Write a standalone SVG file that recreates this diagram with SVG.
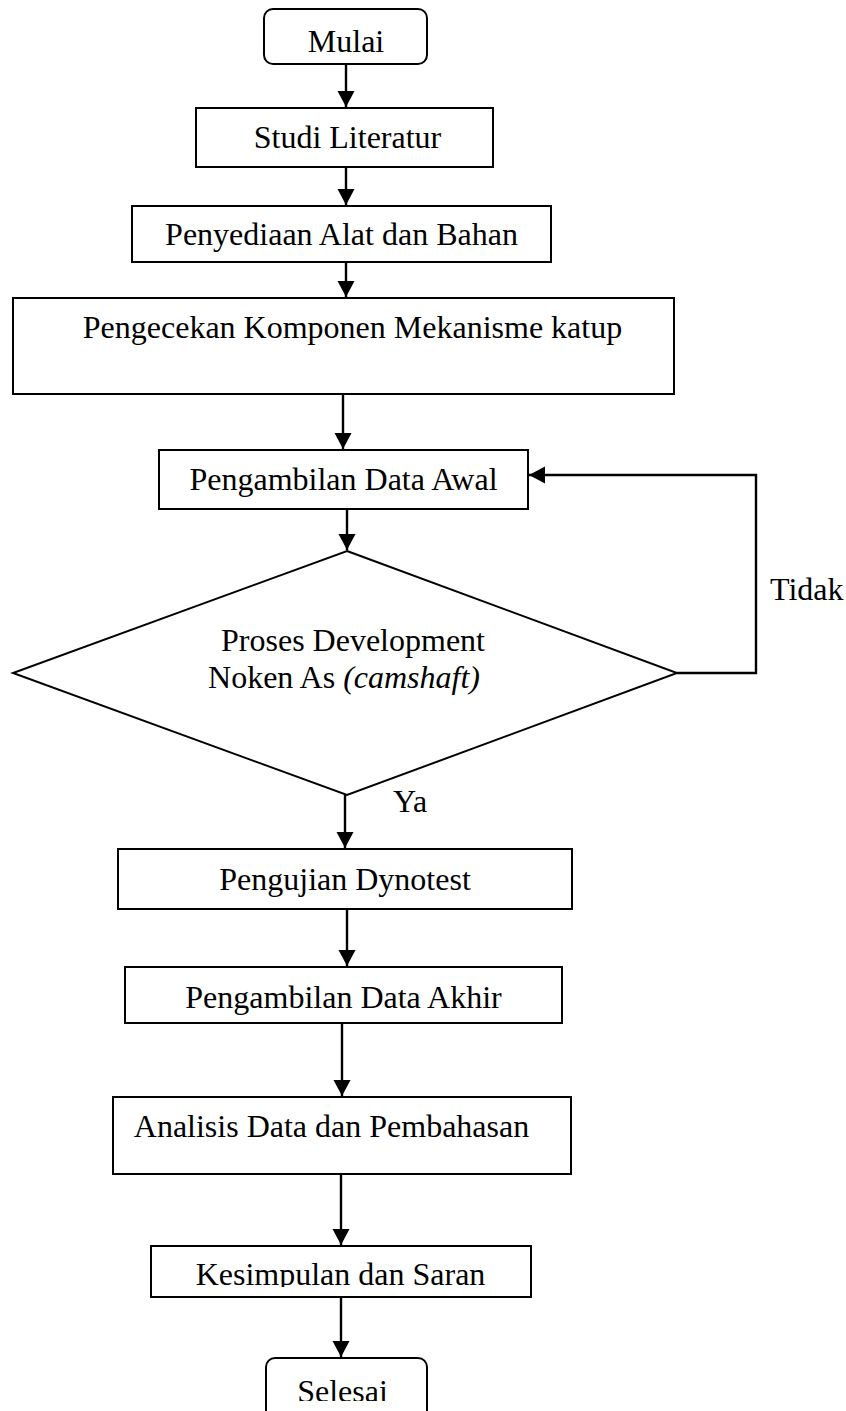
<svg xmlns="http://www.w3.org/2000/svg" width="846" height="1411" viewBox="0 0 846 1411">
<style>
.box{fill:#fff;stroke:#000;stroke-width:2}
.lbl{font-family:"Liberation Serif","Times New Roman",serif;font-size:32px;fill:#000;text-anchor:middle}
.lbs{font-family:"Liberation Serif","Times New Roman",serif;font-size:32px;fill:#000}
.con{fill:none;stroke:#000;stroke-width:2.4}
</style>
<defs>
<marker id="ah" markerUnits="userSpaceOnUse" markerWidth="18" markerHeight="18" refX="16" refY="8.5" orient="auto">
<path d="M0,0 L16,8.5 L0,17 z" fill="#000"/>
</marker>
<clipPath id="clipK"><rect x="0" y="1200" width="846" height="87"/></clipPath>
<clipPath id="clipS"><rect x="0" y="1300" width="846" height="101"/></clipPath>
</defs>
<rect width="846" height="1411" fill="#fff"/>
<g id="connectors">
<line class="con" x1="346" y1="64" x2="346" y2="107" marker-end="url(#ah)"/>
<line class="con" x1="346" y1="167" x2="346" y2="205" marker-end="url(#ah)"/>
<line class="con" x1="346" y1="262" x2="346" y2="297" marker-end="url(#ah)"/>
<line class="con" x1="343" y1="394" x2="343" y2="449" marker-end="url(#ah)"/>
<line class="con" x1="347" y1="509" x2="347" y2="550" marker-end="url(#ah)"/>
<line class="con" x1="345" y1="795" x2="345" y2="848" marker-end="url(#ah)"/>
<line class="con" x1="347" y1="910" x2="347" y2="966" marker-end="url(#ah)"/>
<line class="con" x1="342" y1="1023" x2="342" y2="1096" marker-end="url(#ah)"/>
<line class="con" x1="341" y1="1174" x2="341" y2="1245" marker-end="url(#ah)"/>
<line class="con" x1="341" y1="1297" x2="341" y2="1357" marker-end="url(#ah)"/>
<polyline class="con" points="677,673 756,673 756,475 529,475" marker-end="url(#ah)"/>
<text class="lbs" x="770" y="600">Tidak</text>
<text class="lbs" x="393" y="812">Ya</text>
</g>
<g id="mulai">
<rect class="box" x="264" y="9" width="163" height="55" rx="9"/>
<text class="lbl" x="346" y="52">Mulai</text>
</g>
<g id="studi">
<rect class="box" x="196" y="108" width="297" height="59"/>
<text class="lbl" x="347.5" y="148">Studi Literatur</text>
</g>
<g id="penyediaan">
<rect class="box" x="132" y="206" width="419" height="56"/>
<text class="lbl" x="341.5" y="245">Penyediaan Alat dan Bahan</text>
</g>
<g id="pengecekan">
<rect class="box" x="13" y="298" width="661" height="96"/>
<text class="lbl" x="352.5" y="338">Pengecekan Komponen Mekanisme katup</text>
</g>
<g id="awal">
<rect class="box" x="159" y="450" width="369" height="59"/>
<text class="lbl" x="343.5" y="490">Pengambilan Data Awal</text>
</g>
<g id="proses">
<polygon class="box" points="347,551 677,673 347,795 13,673"/>
<text class="lbl" x="353" y="651">Proses Development</text>
<text class="lbl" x="344" y="688">Noken As <tspan font-style="italic">(camshaft)</tspan></text>
</g>
<g id="dynotest">
<rect class="box" x="118" y="849" width="454" height="60"/>
<text class="lbl" x="345" y="890">Pengujian Dynotest</text>
</g>
<g id="akhir">
<rect class="box" x="125" y="967" width="437" height="56"/>
<text class="lbl" x="343.5" y="1008">Pengambilan Data Akhir</text>
</g>
<g id="analisis">
<rect class="box" x="113" y="1097" width="458" height="77"/>
<text class="lbl" x="331.5" y="1137">Analisis Data dan Pembahasan</text>
</g>
<g id="kesimpulan">
<rect class="box" x="151" y="1246" width="380" height="51"/>
<text class="lbl" x="340.5" y="1285" clip-path="url(#clipK)">Kesimpulan dan Saran</text>
</g>
<g id="selesai">
<rect class="box" x="266" y="1358" width="161" height="70" rx="9"/>
<text class="lbl" x="342.5" y="1402" clip-path="url(#clipS)">Selesai</text>
</g>
</svg>
